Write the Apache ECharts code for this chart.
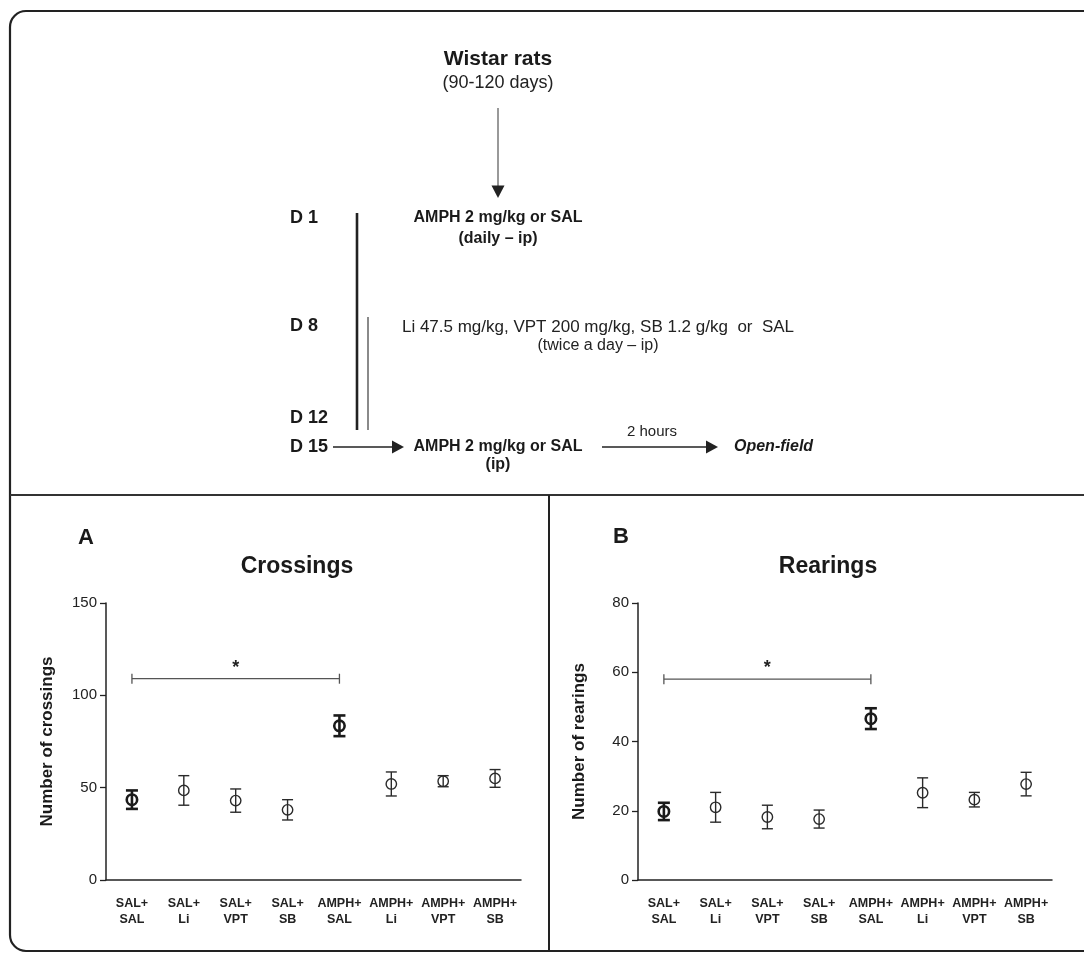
<!DOCTYPE html>
<html>
<head>
<meta charset="utf-8">
<script src="https://cdn.jsdelivr.net/npm/echarts@6/dist/echarts.min.js"></script>
<style>
html,body{margin:0;padding:0;background:#fff;}
#chart{width:1084px;height:954px;}
</style>
</head>
<body>
<div id="chart"></div>
<script>
// ---- data ----
const categories = ['SAL+\nSAL','SAL+\nLi','SAL+\nVPT','SAL+\nSB','AMPH+\nSAL','AMPH+\nLi','AMPH+\nVPT','AMPH+\nSB'];
const crossMean = [43.5, 48.5, 43, 38, 83.5, 52, 53.5, 55];
const crossSem  = [5, 8, 6.3, 5.5, 5.6, 6.5, 3, 4.8];
const rearMean  = [19.8, 21, 18.2, 17.6, 46.6, 25.2, 23.2, 27.7];
const rearSem   = [2.5, 4.3, 3.4, 2.6, 3, 4.3, 2.1, 3.4];
const crossTicks = [0, 50, 100, 150];
const rearTicks  = [0, 20, 40, 60, 80];
const crossSig = [0, 4, 109];   // from category, to category, bracket value
const rearSig  = [0, 4, 58];
const boldGroups = ['SAL+\nSAL', 'AMPH+\nSAL'];

const FONT = '"Liberation Sans", Arial, Helvetica, sans-serif';
const chart = echarts.init(document.getElementById('chart'), null, {renderer:'canvas'});

function errRender(params, api) {
  const i = api.value(0), m = api.value(1), s = api.value(2);
  const c = api.coord([i, m]);
  const t = api.coord([i, m + s]);
  const b = api.coord([i, m - s]);
  const bold = boldGroups.indexOf(categories[i]) >= 0;
  const lw = bold ? 2.6 : 1.4;
  const hw = bold ? 6 : 5.5;
  const col = bold ? '#1a1a1a' : '#2a2a2a';
  const st = {stroke: col, lineWidth: lw, fill: 'none'};
  return {type:'group', children:[
    {type:'line', shape:{x1:c[0], y1:t[1], x2:c[0], y2:b[1]}, style:st},
    {type:'line', shape:{x1:c[0]-hw, y1:t[1], x2:c[0]+hw, y2:t[1]}, style:st},
    {type:'line', shape:{x1:c[0]-hw, y1:b[1], x2:c[0]+hw, y2:b[1]}, style:st},
    {type:'circle', shape:{cx:c[0], cy:c[1], r:5.2}, style:{stroke: col, lineWidth: lw, fill: 'none'}}
  ]};
}
function sigRender(params, api) {
  const a = api.coord([api.value(0), api.value(2)]);
  const b = api.coord([api.value(1), api.value(2)]);
  const mid = api.coord([(api.value(0) + api.value(1)) / 2, api.value(2)]);
  const st = {stroke:'#555', lineWidth:1.3};
  return {type:'group', children:[
    {type:'line', shape:{x1:a[0], y1:a[1], x2:b[0], y2:b[1]}, style:st},
    {type:'line', shape:{x1:a[0], y1:a[1]-5, x2:a[0], y2:a[1]+5}, style:st},
    {type:'line', shape:{x1:b[0], y1:b[1]-5, x2:b[0], y2:b[1]+5}, style:st},
    {type:'text', style:{text:'*', x:mid[0], y:mid[1]-11, align:'center', verticalAlign:'middle',
      font:'bold 18px ' + FONT, fill:'#222'}}
  ]};
}

function xAxis(idx) {
  return {
    type:'category', gridIndex: idx, data: categories, boundaryGap: true,
    axisLine:{lineStyle:{color:'#222', width:1.5}},
    axisTick:{alignWithLabel:true, length:6, lineStyle:{color:'#222', width:1.3}},
    axisLabel:{color:'#222', fontFamily:FONT, fontWeight:'bold', fontSize:12.5, lineHeight:16, margin:16, interval:0},
    splitLine:{show:false}
  };
}
function yAxis(idx, ticks, name) {
  return {
    type:'value', gridIndex: idx, min: ticks[0], max: ticks[ticks.length-1],
    interval: ticks[1] - ticks[0],
    name: name, nameLocation:'middle', nameRotate:90, nameGap:50,
    nameTextStyle:{color:'#1a1a1a', fontFamily:FONT, fontWeight:'bold', fontSize:17},
    axisLine:{show:true, lineStyle:{color:'#222', width:1.5}},
    axisTick:{show:true, length:6, lineStyle:{color:'#222', width:1.3}},
    axisLabel:{color:'#222', fontFamily:FONT, fontSize:15, margin:9},
    splitLine:{show:false}
  };
}

function txt(x, y, text, font, align, color) {
  return {type:'text', x:x, y:y, silent:true,
    style:{text:text, font:font, fill:color || '#1a1a1a', align:align || 'center', verticalAlign:'middle'}};
}
function hArrow(x1, x2, y, col) {
  return [
    {type:'line', shape:{x1:x1, y1:y, x2:x2-10, y2:y}, style:{stroke:col||'#222', lineWidth:1.3}},
    {type:'polygon', shape:{points:[[x2-12, y-6.5],[x2, y],[x2-12, y+6.5]]}, style:{fill:col||'#222'}}
  ];
}

const B = 'bold ';
const graphics = [
  // frame
  {type:'rect', shape:{x:10, y:11, width:1100, height:940, r:16}, style:{fill:'none', stroke:'#222', lineWidth:2.2}, silent:true},
  {type:'line', shape:{x1:10, y1:495, x2:1084, y2:495}, style:{stroke:'#333', lineWidth:2}, silent:true},
  {type:'line', shape:{x1:549, y1:495, x2:549, y2:951}, style:{stroke:'#222', lineWidth:2}, silent:true},
  // diagram
  txt(498, 59, 'Wistar rats', B + '21px ' + FONT),
  txt(498, 83, '(90-120 days)', '18px ' + FONT, 'center', '#222'),
  {type:'line', shape:{x1:498, y1:108, x2:498, y2:188}, style:{stroke:'#555', lineWidth:1.2}, silent:true},
  {type:'polygon', shape:{points:[[491.5,185.5],[504.5,185.5],[498,198]]}, style:{fill:'#222'}, silent:true},
  txt(290, 218, 'D 1', B + '18px ' + FONT, 'left'),
  txt(290, 326, 'D 8', B + '18px ' + FONT, 'left'),
  txt(290, 418, 'D 12', B + '18px ' + FONT, 'left'),
  txt(290, 447, 'D 15', B + '18px ' + FONT, 'left'),
  {type:'line', shape:{x1:357, y1:213, x2:357, y2:430}, style:{stroke:'#222', lineWidth:2.6}, silent:true},
  {type:'line', shape:{x1:368, y1:317, x2:368, y2:430}, style:{stroke:'#8a8a8a', lineWidth:2}, silent:true},
  txt(498, 218, 'AMPH 2 mg/kg or SAL', B + '16px ' + FONT),
  txt(498, 239, '(daily \u2013 ip)', B + '16px ' + FONT),
  txt(598, 327, 'Li 47.5 mg/kg, VPT 200 mg/kg, SB 1.2 g/kg  or  SAL', '17px ' + FONT, 'center', '#222'),
  txt(598, 346, '(twice a day \u2013 ip)', '16px ' + FONT, 'center', '#222'),
  ...hArrow(333, 404, 447),
  txt(498, 447, 'AMPH 2 mg/kg or SAL', B + '16px ' + FONT),
  txt(498, 465, '(ip)', B + '16px ' + FONT),
  ...hArrow(602, 718, 447),
  txt(652, 432, '2 hours', '15px ' + FONT, 'center', '#222'),
  txt(734, 447, 'Open-field', 'italic bold 16px ' + FONT, 'left'),
  // panel titles
  txt(78, 538, 'A', B + '22px ' + FONT, 'left'),
  txt(297, 567, 'Crossings', B + '23px ' + FONT),
  txt(613, 537, 'B', B + '22px ' + FONT, 'left'),
  txt(828, 567, 'Rearings', B + '23px ' + FONT)
];

const option = {
  animation:false,
  backgroundColor:'#fff',
  grid:[
    {left:106, top:603, width:415, height:277},
    {left:638, top:603, width:414, height:277}
  ],
  xAxis:[xAxis(0), xAxis(1)],
  yAxis:[yAxis(0, crossTicks, 'Number of crossings'), yAxis(1, rearTicks, 'Number of rearings')],
  graphic: graphics,
  series:[
    {type:'custom', xAxisIndex:0, yAxisIndex:0, clip:false, renderItem: errRender,
     encode:{x:0, y:1}, data: crossMean.map((m, i) => [i, m, crossSem[i]])},
    {type:'custom', xAxisIndex:1, yAxisIndex:1, clip:false, renderItem: errRender,
     encode:{x:0, y:1}, data: rearMean.map((m, i) => [i, m, rearSem[i]])},
    {type:'custom', xAxisIndex:0, yAxisIndex:0, clip:false, renderItem: sigRender,
     encode:{x:0, y:2}, data: [crossSig]},
    {type:'custom', xAxisIndex:1, yAxisIndex:1, clip:false, renderItem: sigRender,
     encode:{x:0, y:2}, data: [rearSig]}
  ]
};
chart.setOption(option);
</script>
</body>
</html>
